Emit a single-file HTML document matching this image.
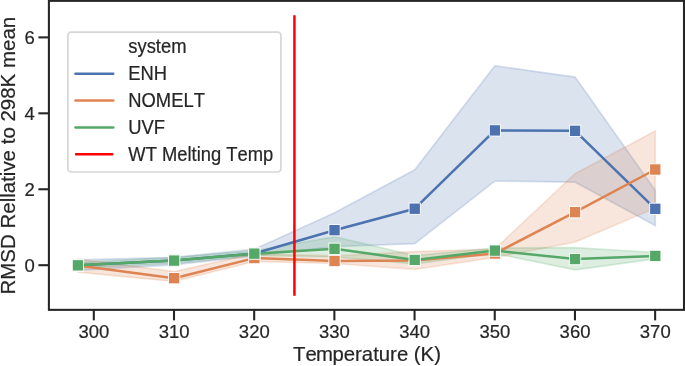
<!DOCTYPE html><html><head><meta charset="utf-8"><title>RMSD vs Temperature</title>
<style>html,body{margin:0;padding:0;background:#fff}svg{display:block}text{font-kerning:none;stroke:#262626;stroke-width:0.2px;font-family:"Liberation Sans",Arial,sans-serif;fill:#262626}</style></head><body>
<svg width="685" height="366" viewBox="0 0 685 366">
<rect width="685" height="366" fill="#fff"/>
<path d="M77.92,259.90 L174.15,257.30 L254.33,249.20 L334.52,212.80 L414.71,169.75 L494.90,65.75 L575.09,77.10 L655.28,190.20 L655.28,225.50 L575.09,182.20 L494.90,181.00 L414.71,243.70 L334.52,246.60 L254.33,255.90 L174.15,264.80 L77.92,270.40Z" fill="#4c72b0" fill-opacity="0.2" stroke="#4c72b0" stroke-opacity="0.2" stroke-width="1.67" stroke-linejoin="miter"/>
<path d="M77.92,259.00 L174.15,271.60 L254.33,253.50 L334.52,255.90 L414.71,251.60 L494.90,249.00 L575.09,173.70 L655.28,131.00 L655.28,208.00 L575.09,242.10 L494.90,257.50 L414.71,269.30 L334.52,263.50 L254.33,261.50 L174.15,281.40 L77.92,272.20Z" fill="#dd8452" fill-opacity="0.2" stroke="#dd8452" stroke-opacity="0.2" stroke-width="1.67" stroke-linejoin="miter"/>
<path d="M77.92,262.50 L174.15,257.50 L254.33,250.80 L334.52,236.70 L414.71,255.60 L494.90,248.00 L575.09,247.60 L655.28,252.50 L655.28,258.90 L575.09,269.90 L494.90,253.50 L414.71,263.90 L334.52,257.00 L254.33,255.50 L174.15,263.50 L77.92,268.00Z" fill="#55a868" fill-opacity="0.2" stroke="#55a868" stroke-opacity="0.2" stroke-width="1.67" stroke-linejoin="miter"/>
<path d="M77.92,265.35 L174.15,260.50 L254.33,253.50 L334.52,230.20 L414.71,208.70 L494.90,130.40 L575.09,130.80 L655.28,208.80" fill="none" stroke="#4c72b0" stroke-width="2.5" stroke-linejoin="round" stroke-linecap="round"/><rect x="72.27" y="259.70" width="11.3" height="11.3" fill="#4c72b0" stroke="#fff" stroke-width="0.9"/><rect x="168.50" y="254.85" width="11.3" height="11.3" fill="#4c72b0" stroke="#fff" stroke-width="0.9"/><rect x="248.68" y="247.85" width="11.3" height="11.3" fill="#4c72b0" stroke="#fff" stroke-width="0.9"/><rect x="328.87" y="224.55" width="11.3" height="11.3" fill="#4c72b0" stroke="#fff" stroke-width="0.9"/><rect x="409.06" y="203.05" width="11.3" height="11.3" fill="#4c72b0" stroke="#fff" stroke-width="0.9"/><rect x="489.25" y="124.75" width="11.3" height="11.3" fill="#4c72b0" stroke="#fff" stroke-width="0.9"/><rect x="569.44" y="125.15" width="11.3" height="11.3" fill="#4c72b0" stroke="#fff" stroke-width="0.9"/><rect x="649.63" y="203.15" width="11.3" height="11.3" fill="#4c72b0" stroke="#fff" stroke-width="0.9"/>
<path d="M77.92,265.60 L174.15,278.20 L254.33,258.10 L334.52,261.00 L414.71,260.50 L494.90,253.50 L575.09,212.20 L655.28,169.50" fill="none" stroke="#dd8452" stroke-width="2.5" stroke-linejoin="round" stroke-linecap="round"/><rect x="72.27" y="259.95" width="11.3" height="11.3" fill="#dd8452" stroke="#fff" stroke-width="0.9"/><rect x="168.50" y="272.55" width="11.3" height="11.3" fill="#dd8452" stroke="#fff" stroke-width="0.9"/><rect x="248.68" y="252.45" width="11.3" height="11.3" fill="#dd8452" stroke="#fff" stroke-width="0.9"/><rect x="328.87" y="255.35" width="11.3" height="11.3" fill="#dd8452" stroke="#fff" stroke-width="0.9"/><rect x="409.06" y="254.85" width="11.3" height="11.3" fill="#dd8452" stroke="#fff" stroke-width="0.9"/><rect x="489.25" y="247.85" width="11.3" height="11.3" fill="#dd8452" stroke="#fff" stroke-width="0.9"/><rect x="569.44" y="206.55" width="11.3" height="11.3" fill="#dd8452" stroke="#fff" stroke-width="0.9"/><rect x="649.63" y="163.85" width="11.3" height="11.3" fill="#dd8452" stroke="#fff" stroke-width="0.9"/>
<path d="M77.92,265.35 L174.15,260.60 L254.33,253.65 L334.52,248.80 L414.71,259.90 L494.90,250.60 L575.09,259.10 L655.28,255.90" fill="none" stroke="#55a868" stroke-width="2.5" stroke-linejoin="round" stroke-linecap="round"/><rect x="72.27" y="259.70" width="11.3" height="11.3" fill="#55a868" stroke="#fff" stroke-width="0.9"/><rect x="168.50" y="254.95" width="11.3" height="11.3" fill="#55a868" stroke="#fff" stroke-width="0.9"/><rect x="248.68" y="248.00" width="11.3" height="11.3" fill="#55a868" stroke="#fff" stroke-width="0.9"/><rect x="328.87" y="243.15" width="11.3" height="11.3" fill="#55a868" stroke="#fff" stroke-width="0.9"/><rect x="409.06" y="254.25" width="11.3" height="11.3" fill="#55a868" stroke="#fff" stroke-width="0.9"/><rect x="489.25" y="244.95" width="11.3" height="11.3" fill="#55a868" stroke="#fff" stroke-width="0.9"/><rect x="569.44" y="253.45" width="11.3" height="11.3" fill="#55a868" stroke="#fff" stroke-width="0.9"/><rect x="649.63" y="250.25" width="11.3" height="11.3" fill="#55a868" stroke="#fff" stroke-width="0.9"/>
<line x1="294.43" x2="294.43" y1="15.2" y2="295.8" stroke="#ff0000" stroke-width="2.5"/>
<rect x="48.9" y="0.85" width="635.1" height="309.0" fill="none" stroke="#262626" stroke-width="2.08"/>
<line x1="93.81" x2="93.81" y1="309.85" y2="320.35" stroke="#262626" stroke-width="2.08"/>
<text transform="translate(93.91,338.4) scale(1.01,1.035)" font-size="18.33" text-anchor="middle">300</text>
<line x1="174.00" x2="174.00" y1="309.85" y2="320.35" stroke="#262626" stroke-width="2.08"/>
<text transform="translate(174.10,338.4) scale(1.01,1.035)" font-size="18.33" text-anchor="middle">310</text>
<line x1="254.18" x2="254.18" y1="309.85" y2="320.35" stroke="#262626" stroke-width="2.08"/>
<text transform="translate(254.28,338.4) scale(1.01,1.035)" font-size="18.33" text-anchor="middle">320</text>
<line x1="334.37" x2="334.37" y1="309.85" y2="320.35" stroke="#262626" stroke-width="2.08"/>
<text transform="translate(334.47,338.4) scale(1.01,1.035)" font-size="18.33" text-anchor="middle">330</text>
<line x1="414.56" x2="414.56" y1="309.85" y2="320.35" stroke="#262626" stroke-width="2.08"/>
<text transform="translate(414.66,338.4) scale(1.01,1.035)" font-size="18.33" text-anchor="middle">340</text>
<line x1="494.75" x2="494.75" y1="309.85" y2="320.35" stroke="#262626" stroke-width="2.08"/>
<text transform="translate(494.85,338.4) scale(1.01,1.035)" font-size="18.33" text-anchor="middle">350</text>
<line x1="574.94" x2="574.94" y1="309.85" y2="320.35" stroke="#262626" stroke-width="2.08"/>
<text transform="translate(575.04,338.4) scale(1.01,1.035)" font-size="18.33" text-anchor="middle">360</text>
<line x1="655.13" x2="655.13" y1="309.85" y2="320.35" stroke="#262626" stroke-width="2.08"/>
<text transform="translate(655.23,338.4) scale(1.01,1.035)" font-size="18.33" text-anchor="middle">370</text>
<line x1="38.4" x2="48.9" y1="265.20" y2="265.20" stroke="#262626" stroke-width="2.08"/>
<text transform="translate(34.7,272.05) scale(1.01,1.035)" font-size="18.33" text-anchor="end">0</text>
<line x1="38.4" x2="48.9" y1="189.26" y2="189.26" stroke="#262626" stroke-width="2.08"/>
<text transform="translate(34.7,196.11) scale(1.01,1.035)" font-size="18.33" text-anchor="end">2</text>
<line x1="38.4" x2="48.9" y1="113.32" y2="113.32" stroke="#262626" stroke-width="2.08"/>
<text transform="translate(34.7,120.17) scale(1.01,1.035)" font-size="18.33" text-anchor="end">4</text>
<line x1="38.4" x2="48.9" y1="37.38" y2="37.38" stroke="#262626" stroke-width="2.08"/>
<text transform="translate(34.7,44.23) scale(1.01,1.035)" font-size="18.33" text-anchor="end">6</text>
<text x="293.1" y="360.8" font-size="20.33">Te<tspan dx="-0.8">m</tspan><tspan dx="-0.5">perature (K)</tspan></text>
<text transform="translate(15.25,294.5) rotate(-90)" font-size="20.45" textLength="277.7" lengthAdjust="spacingAndGlyphs">RMSD Rellative to 298K mean</text>
<rect x="67.9" y="32.1" width="213.0" height="139.9" rx="3.3" ry="3.3" fill="#fff" fill-opacity="0.8" stroke="#cccccc" stroke-opacity="0.8" stroke-width="1.67"/>
<text transform="translate(128.3,53.0) scale(1.003,1.10)" font-size="18.33">system</text>
<line x1="75.45" x2="113.25" y1="73.7" y2="73.7" stroke="#4c72b0" stroke-width="2.5" stroke-linecap="round"/>
<text transform="translate(128.3,80.10) scale(1.003,1.075)" font-size="18.33">ENH</text>
<line x1="75.45" x2="113.25" y1="100.5" y2="100.5" stroke="#dd8452" stroke-width="2.5" stroke-linecap="round"/>
<text transform="translate(128.3,107.00) scale(1.003,1.075)" font-size="18.33">NOMELT</text>
<line x1="75.45" x2="113.25" y1="127.45" y2="127.45" stroke="#55a868" stroke-width="2.5" stroke-linecap="round"/>
<text transform="translate(128.3,133.90) scale(1.003,1.075)" font-size="18.33">UVF</text>
<line x1="75.1" x2="113.2" y1="154.3" y2="154.3" stroke="#ff0000" stroke-width="2.5" stroke-linecap="butt"/>
<text transform="translate(128.3,160.90) scale(1.003,1.075)" font-size="18.33">WT Melting Temp</text>
</svg></body></html>
